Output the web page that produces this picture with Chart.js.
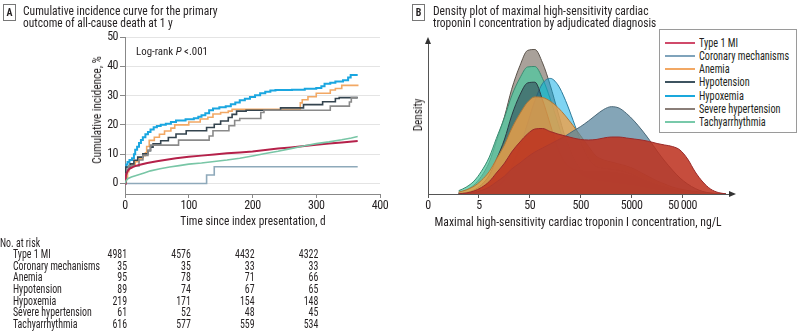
<!DOCTYPE html>
<html><head><meta charset="utf-8">
<script src="https://cdn.jsdelivr.net/npm/chart.js@4.4.1/dist/chart.umd.min.js"></script>
<style>
html,body{margin:0;padding:0;background:#fff;width:800px;height:333px;overflow:hidden;}
body{position:relative;font-family:"Roboto Condensed",Roboto,"Liberation Sans",sans-serif;color:#231f20;}
.abs{position:absolute;white-space:nowrap;}
.lft{transform-origin:left center;}
.tag{position:absolute;border:1px solid #777;font-weight:bold;font-size:10px;text-align:center;line-height:15px;width:11px;height:15px;}
</style></head><body>
<canvas id="cA" width="400" height="333" style="position:absolute;left:0;top:0"></canvas>
<canvas id="cB" width="400" height="333" style="position:absolute;left:400px;top:0"></canvas>

<div class="tag" style="left:3px;top:4px">A</div>
<div class="abs lft" style="left:23px;top:3.5px;font-size:12.5px;line-height:14px" data-w="195" data-t="">Cumulative incidence curve for the primary</div>
<div class="abs lft" style="left:23px;top:15.5px;font-size:12.5px;line-height:14px" data-w="150" data-t="">outcome of all-cause death at 1 y</div>
<div class="abs lft" style="left:136px;top:44px;font-size:11.5px;line-height:14px" data-w="72" data-t="">Log-rank <i>P</i> &lt;.001</div>
<div class="abs" style="left:97px;top:110px;font-size:12.5px;line-height:14px" data-w="108" data-t="translate(-50%,-50%) rotate(-90deg)">Cumulative incidence, %</div>
<div class="abs" style="left:252.5px;top:220.5px;font-size:12.5px;line-height:14px" data-w="145" data-t="translate(-50%,-50%)">Time since index presentation, d</div>

<div class="tag" style="left:412px;top:4px">B</div>
<div class="abs lft" style="left:433px;top:3.5px;font-size:12.5px;line-height:14px" data-w="216" data-t="">Density plot of maximal high-sensitivity cardiac</div>
<div class="abs lft" style="left:433px;top:15.5px;font-size:12.5px;line-height:14px" data-w="223" data-t="">troponin I concentration by adjudicated diagnosis</div>
<div class="abs" style="left:418px;top:115px;font-size:12.5px;line-height:14px" data-w="33" data-t="translate(-50%,-50%) rotate(-90deg)">Density</div>
<div class="abs" style="left:578px;top:222px;font-size:12.5px;line-height:14px" data-w="287" data-t="translate(-50%,-50%)">Maximal high-sensitivity cardiac troponin I concentration, ng/L</div>
<div id="leg" style="position:absolute;left:659px;top:29px;width:136px;height:102px;border:1px solid #9a9a9a;background:#fff"></div>

<script>
const FONT = '"Roboto Condensed",Roboto,"Liberation Sans",sans-serif';
Chart.defaults.font.family = FONT;

// ---------- Panel A: cumulative incidence (days, %) ----------
const groupNames = ["Type 1 MI","Coronary mechanisms","Anemia","Hypotension","Hypoxemia","Severe hypertension","Tachyarrhythmia"];
const xTicksA = [0,100,200,300,400];
const yTicksA = [0,10,20,30,40,50];

const incType1MI = [[0,0],[1,2.2],[2,3.2],[4,4.2],[7,5.0],[12,5.6],[18,6.1],[25,6.5],[35,7.0],[50,7.6],[65,8.1],[80,8.6],[100,9.1],[120,9.5],[140,9.9],[160,10.3],[180,10.6],[200,10.9],[220,11.4],[240,11.9],[260,12.3],[285,12.9],[300,13.2],[320,13.6],[340,14.0],[365,14.5]];
const incCoronary = [[0,0],[128,2.9],[140,5.7],[365,5.7]];
const incAnemia = [[0,0],[2,2],[4,4],[6,5.3],[10,6.3],[16,7.4],[22,8.4],[28,9.5],[32,10.5],[34,12.6],[38,14.7],[46,15.8],[54,16.8],[62,17.9],[72,18.9],[78,20],[100,21],[118,22],[130,22.6],[138,23.7],[150,24.2],[162,24.7],[168,25.3],[272,25.3],[275,27.5],[278,28.6],[287,29.6],[300,30.8],[322,31.9],[330,32.4],[340,33.5],[365,33.8]];
const incHypotension = [[0,0],[1,5.6],[8,6.7],[14,7.9],[20,9.0],[28,10.1],[36,11.2],[40,12.4],[44,13.5],[56,14.6],[68,15.7],[80,16.9],[96,18.0],[128,19.1],[140,20.2],[150,21.3],[162,22.5],[168,23.6],[175,24.7],[190,25.0],[244,25.8],[280,26.9],[310,27.9],[330,29.0],[336,29.3],[365,29.3]];
const incHypoxemia = [[0,0],[0.5,3],[1,5.5],[2,6.5],[4,7.3],[7,8.0],[11,8.6],[14,10],[16,11.5],[19,12.5],[22,13.8],[25,14.8],[28,15.8],[32,16.8],[36,17.6],[40,18.4],[45,19.2],[50,19.6],[56,20.0],[64,20.4],[72,21.0],[80,21.5],[95,21.9],[108,22.3],[115,22.8],[120,23.3],[126,24.0],[132,25.0],[138,25.6],[148,26.0],[158,26.4],[166,27.0],[173,27.6],[180,28.4],[188,28.9],[196,29.5],[204,30.1],[212,30.8],[220,31.3],[228,31.7],[236,31.9],[262,32.0],[282,32.3],[300,32.6],[308,33.2],[313,34.0],[322,34.4],[330,34.8],[342,35.2],[350,36.2],[354,37.0],[365,37.0]];
const incSevereHT = [[0,0],[1,1.6],[2,3.3],[3,4.9],[6,6.0],[22,8.0],[28,9.6],[36,11.3],[40,13.1],[84,14.8],[132,16.2],[138,18.0],[163,19.7],[172,21.5],[180,22.2],[213,24.2],[218,25.0],[322,26.4],[352,27.8],[355,29.3],[365,29.3]];
const incTachy = [[0,0],[2,1.0],[5,1.7],[10,2.2],[20,2.9],[30,3.6],[40,4.3],[55,5.0],[70,5.6],[85,6.1],[100,6.6],[120,7.0],[140,7.5],[160,8.0],[180,8.6],[200,9.4],[220,10.2],[240,11.0],[260,11.9],[280,12.8],[300,13.6],[320,14.2],[340,14.9],[355,15.5],[365,16.0]];

const riskTimes = [0,100,200,300];
const riskType1MI = [4981,4576,4432,4322];
const riskCoronary = [35,35,33,33];
const riskAnemia = [95,78,71,66];
const riskHypotension = [89,74,67,65];
const riskHypoxemia = [219,171,154,148];
const riskSevereHT = [61,52,48,45];
const riskTachy = [616,577,559,534];
const riskTable = [riskType1MI,riskCoronary,riskAnemia,riskHypotension,riskHypoxemia,riskSevereHT,riskTachy];

const lineColorsA = ['#b5214a','#8ea9ba','#f2a864','#34444f','#1aa6e0','#8a8a8a','#78c6a6'];

function pts(a){return a.map(p=>({x:p[0],y:p[1]}));}
const seriesA = [
  {d:incTachy, c:lineColorsA[6], w:1.6, s:false},
  {d:incType1MI, c:lineColorsA[0], w:2, s:false},
  {d:incCoronary, c:lineColorsA[1], w:1.6, s:true},
  {d:incSevereHT, c:lineColorsA[5], w:1.6, s:true},
  {d:incHypotension, c:lineColorsA[3], w:1.6, s:true},
  {d:incAnemia, c:lineColorsA[2], w:1.6, s:true},
  {d:incHypoxemia, c:lineColorsA[4], w:2, s:true}
];

const tightText = {
  id:'tight',
  beforeDraw(chart){ try{ chart.ctx.letterSpacing = '-0.5px'; }catch(e){} },
  afterDraw(chart){ try{ chart.ctx.letterSpacing = '0px'; }catch(e){} }
};

const riskPlugin = {
  id:'risk',
  afterDraw(chart){
    const ctx = chart.ctx, xs = chart.scales.x;
    ctx.save();
    try{ ctx.letterSpacing = '0px'; }catch(e){}
    ctx.fillStyle = '#231f20';
    ctx.font = '12.5px ' + FONT;
    ctx.textBaseline = 'middle';
    const k = 87 / ctx.measureText('Coronary mechanisms').width;
    function put(txt, x, y, align){
      ctx.save(); ctx.translate(x, y); ctx.scale(k, 1); ctx.textAlign = align; ctx.fillText(txt, 0, 0); ctx.restore();
    }
    put('No. at risk', 0, 243.5, 'left');
    groupNames.forEach((g,i)=>{
      const y = 255 + i*11.67;
      put(g, 13, y, 'left');
      riskTable[i].forEach((n,j)=>{
        put(String(n), xs.getPixelForValue(riskTimes[j]) + 2, y, 'right');
      });
    });
    ctx.restore();
  }
};

new Chart(document.getElementById('cA'), {
  type:'line',
  data:{datasets: seriesA.map(s=>({data:pts(s.d), borderColor:s.c, borderWidth:s.w, stepped:s.s, pointRadius:0, fill:false, tension:0}))},
  options:{
    responsive:false, animation:false, devicePixelRatio:1,
    layout:{padding:{top:37,right:20,left:0,bottom:0}},
    plugins:{legend:{display:false}, tooltip:{enabled:false}},
    scales:{
      x:{type:'linear', min:0, max:400,
        afterBuildTicks:s=>{s.ticks = xTicksA.map(v=>({value:v}));},
        afterFit:s=>{s.height = 139;},
        grid:{drawOnChartArea:false, drawTicks:true, tickLength:4, tickColor:'#888'},
        border:{color:'#888'},
        ticks:{font:{size:12}, color:'#231f20', padding:1, maxRotation:0, autoSkip:false}},
      y:{min:-3.6, max:50,
        afterBuildTicks:s=>{s.ticks = yTicksA.map(v=>({value:v}));},
        afterFit:s=>{s.width = 125;},
        grid:{color:'#e4e4e4', tickLength:5, tickColor:'#888'},
        border:{color:'#888'},
        ticks:{font:{size:12}, color:'#231f20', padding:2}}
    }
  },
  plugins:[tightText, riskPlugin]
});

// ---------- Panel B: density over log concentration (ng/L) ----------
const xTicksB = [0.5,5,50,500,5000,50000];
const xTickLabelsB = ["0","5","50","500","5000","50\u2009000"];
const concGrid = [2,2.8,4,5.6,8,11,16,22,32,45,63,89,126,178,251,355,501,708,1000,1413,1995,2818,3981,5623,7943,11220,15849,22387,31623,44668,63096,89125,125893,177828,251189,354813];
const densType1MI = [0.002,0.01,0.03,0.065,0.125,0.21,0.31,0.42,0.52,0.60,0.65,0.655,0.625,0.60,0.58,0.56,0.545,0.54,0.545,0.56,0.57,0.57,0.56,0.55,0.54,0.525,0.505,0.49,0.475,0.44,0.35,0.22,0.12,0.05,0.015,0.002];
const densCoronary = [0,0.005,0.015,0.035,0.07,0.12,0.18,0.25,0.31,0.37,0.42,0.46,0.50,0.54,0.58,0.63,0.675,0.73,0.79,0.845,0.873,0.86,0.805,0.73,0.64,0.54,0.43,0.33,0.24,0.16,0.10,0.055,0.025,0.01,0.003,0];
const densAnemia = [0.019,0.04,0.077,0.136,0.225,0.347,0.494,0.653,0.804,0.917,0.971,0.965,0.928,0.866,0.781,0.684,0.581,0.477,0.38,0.34,0.32,0.30,0.28,0.25,0.21,0.17,0.13,0.10,0.07,0.05,0.035,0.025,0.015,0.008,0.003,0];
const densHypotension = [0.005,0.015,0.04,0.092,0.188,0.343,0.55,0.783,0.991,1.11,1.118,0.941,0.698,0.46,0.31,0.25,0.23,0.22,0.22,0.22,0.215,0.205,0.19,0.17,0.145,0.12,0.09,0.07,0.05,0.035,0.025,0.015,0.008,0.004,0.001,0];
const densHypoxemia = [0,0.001,0.003,0.01,0.027,0.067,0.144,0.275,0.468,0.702,0.934,1.105,1.156,1.092,0.937,0.736,0.526,0.36,0.28,0.26,0.25,0.24,0.22,0.19,0.15,0.12,0.09,0.07,0.05,0.04,0.03,0.02,0.01,0.005,0.002,0];
const densSevereHT = [0.017,0.041,0.09,0.177,0.319,0.525,0.778,1.047,1.283,1.435,1.445,1.311,1.088,0.821,0.558,0.36,0.24,0.18,0.15,0.13,0.12,0.11,0.10,0.09,0.08,0.065,0.05,0.04,0.03,0.02,0.015,0.01,0.005,0.003,0.001,0];
const densTachy = [0.033,0.068,0.129,0.227,0.369,0.555,0.768,0.981,1.16,1.27,1.275,1.155,0.951,0.709,0.475,0.30,0.20,0.16,0.14,0.13,0.12,0.11,0.10,0.09,0.075,0.06,0.045,0.035,0.025,0.018,0.012,0.007,0.004,0.002,0.001,0];

const fillsB = ['rgba(190,50,32,0.87)','rgba(85,130,155,0.72)','rgba(240,160,70,0.8)','rgba(50,75,90,0.6)','rgba(0,170,230,0.5)','rgba(140,130,120,0.75)','rgba(80,200,160,0.75)'];
const edgesB = ['#9a2a2a','#4a6878','#b07838','#2a3a44','#2a7a9a','#5a524a','#3a8a70'];
const legendColors = ['#d04a6a','#7fa3bb','#f2a864','#3e5360','#1aa8dc','#8a7e78','#78c9aa'];
const densSeries = [densType1MI,densCoronary,densAnemia,densHypotension,densHypoxemia,densSevereHT,densTachy];
const drawOrder = [0,1,2,3,4,6,5];

const arrowPlugin = {
  id:'arrows',
  afterDraw(chart){
    const ctx = chart.ctx, a = chart.chartArea;
    ctx.save();
    ctx.fillStyle = '#333';
    ctx.beginPath();
    ctx.moveTo(a.left, a.top-5); ctx.lineTo(a.left-3, a.top+2); ctx.lineTo(a.left+3, a.top+2); ctx.closePath(); ctx.fill();
    ctx.beginPath();
    ctx.moveTo(a.right+5, a.bottom); ctx.lineTo(a.right-2, a.bottom-3); ctx.lineTo(a.right-2, a.bottom+3); ctx.closePath(); ctx.fill();
    ctx.restore();
  }
};

new Chart(document.getElementById('cB'), {
  type:'line',
  data:{datasets: densSeries.map((d,i)=>({
    label:groupNames[i],
    data: d.map((v,k)=>({x:concGrid[k], y:v})),
    backgroundColor:fillsB[i], borderColor:edgesB[i], borderWidth:1,
    fill:'origin', pointRadius:0, cubicInterpolationMode:'monotone', order:drawOrder[i]
  }))},
  options:{
    responsive:false, animation:false, devicePixelRatio:1,
    layout:{padding:{top:42,right:69,left:0,bottom:0}},
    plugins:{legend:{display:false}, tooltip:{enabled:false}},
    scales:{
      x:{type:'logarithmic', min:0.5, max:449000,
        afterBuildTicks:s=>{s.ticks = xTicksB.map(v=>({value:v}));},
        afterFit:s=>{s.height = 139;},
        grid:{drawOnChartArea:false, drawTicks:true, tickLength:4, tickColor:'#555'},
        border:{color:'#555'},
        ticks:{font:{size:12}, color:'#231f20', padding:1, maxRotation:0, autoSkip:false,
          callback:(v,i)=>xTickLabelsB[i]}},
      y:{min:0, max:1.52,
        afterFit:s=>{s.width = 28;},
        grid:{display:false, drawTicks:false},
        border:{display:true, color:'#555'},
        ticks:{display:false}}
    }
  },
  plugins:[tightText, arrowPlugin]
});

// legend box (panel B)
const leg = document.getElementById('leg');
groupNames.forEach((g,i)=>{
  const y = 42 + i*13.15 - 29;
  const ln = document.createElement('div');
  ln.style.cssText = `position:absolute;left:5px;top:${y-1}px;width:30px;height:2px;background:${legendColors[i]}`;
  leg.appendChild(ln);
  const t = document.createElement('div');
  t.textContent = g;
  t.className = 'lgt';
  t.style.cssText = `position:absolute;left:39px;top:${y-7}px;line-height:14px;font-size:12.5px;white-space:nowrap;transform-origin:left center`;
  leg.appendChild(t);
});

// fit text widths to the reference (condensed look)
function fitTexts(){
  document.querySelectorAll('[data-w]').forEach(el=>{
    const w = el.offsetWidth;
    if (!w) return;
    const k = parseFloat(el.dataset.w) / w;
    el.style.transform = (el.dataset.t || '') + ' scaleX(' + k.toFixed(3) + ')';
  });
  const lg = [...document.querySelectorAll('.lgt')];
  const ref = lg[1];
  const k = 90 / ref.offsetWidth;
  lg.forEach(el=>{ el.style.transform = 'scaleX(' + k.toFixed(3) + ')'; });
}
fitTexts();
</script>
</body></html>
